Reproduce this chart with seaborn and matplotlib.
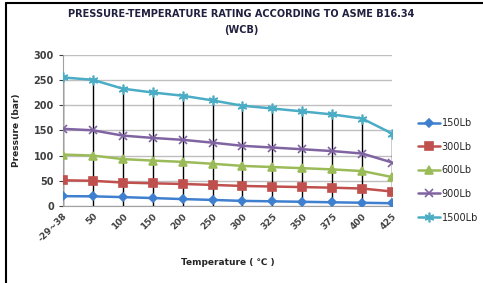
import matplotlib
matplotlib.use("Agg")
import matplotlib.pyplot as plt
import seaborn as sns
import pandas as pd

# temperature categories (deg C)
temps = ["-29~38", "50", "100", "150", "200", "250", "300", "325", "350", "375", "400", "425"]

# pressure ratings (bar) per class, WCB
p150 = [19.6, 19.2, 17.7, 15.8, 13.8, 12.1, 10.2, 9.3, 8.4, 7.4, 6.5, 5.5]
p300 = [51.1, 50.1, 46.6, 45.1, 43.8, 41.9, 39.8, 38.7, 37.6, 36.4, 34.7, 28.8]
p600 = [102.1, 100.2, 93.2, 90.2, 87.6, 83.9, 79.6, 77.4, 75.1, 72.7, 69.4, 57.5]
p900 = [153.2, 150.4, 139.8, 135.2, 131.4, 125.8, 119.5, 116.1, 112.7, 109.1, 104.2, 86.3]
p1500 = [255.3, 250.6, 233.0, 225.4, 219.0, 209.7, 199.1, 193.6, 187.8, 181.8, 173.6, 143.8]

classes = ["150Lb", "300Lb", "600Lb", "900Lb", "1500Lb"]
series = [p150, p300, p600, p900, p1500]
colors = ["#3f7fcf", "#c0504d", "#9bbb59", "#8064a2", "#4bacc6"]
markers = ["D", "s", "^", "x", (6, 2, 0)]
msizes = [4, 6, 6, 6, 7]

rows = []
for cls, vals in zip(classes, series):
    for i, v in enumerate(vals):
        rows.append({"idx": i, "pressure": v, "cls": cls})
df = pd.DataFrame(rows)

sns.set_style("white")
plt.rcParams["font.family"] = ["DejaVu Sans"]

fig = plt.figure(figsize=(4.83, 2.83), dpi=100)
ax = fig.add_axes([0.130, 0.272, 0.682, 0.534])

# drop lines from the highest series down to the axis
ax.vlines(range(len(temps)), 0, p1500, color="black", lw=1.0, zorder=1)

for cls, col, mk, ms in zip(classes, colors, markers, msizes):
    sub = df[df["cls"] == cls]
    sns.lineplot(data=sub, x="idx", y="pressure", ax=ax, color=col, lw=1.8,
                 marker=mk, markersize=ms, markeredgecolor=col,
                 markeredgewidth=1.2, label=cls, zorder=3)

ax.set_xlim(0, len(temps) - 1)
ax.set_ylim(0, 300)
ax.set_yticks(range(0, 301, 50))
ax.set_xticks(range(len(temps)))
ax.set_xticklabels(temps, rotation=45, ha="right", rotation_mode="anchor",
                   fontsize=6.5, color="#404040")
ax.tick_params(axis="y", labelsize=7, colors="#404040", length=3, width=0.8,
               direction="out", left=True)
ax.tick_params(axis="x", length=0, pad=4)
for lab in ax.get_yticklabels() + ax.get_xticklabels():
    lab.set_fontweight("bold")

ax.yaxis.grid(True, color="#bfbfbf", lw=1.0)
ax.set_axisbelow(True)
for s in ["top", "right"]:
    ax.spines[s].set_visible(False)
ax.spines["left"].set_color("#a0a0a0")
ax.spines["bottom"].set_color("#a0a0a0")

ax.set_xlabel("Temperature ( \u2103 )", fontsize=6.5, fontweight="bold", labelpad=10)
ax.set_ylabel("Pressure (bar)", fontsize=6.5, fontweight="bold", labelpad=9)

fig.text(0.50, 0.95, "PRESSURE-TEMPERATURE RATING ACCORDING TO ASME B16.34",
         ha="center", va="center", fontsize=7, fontweight="bold", color="#1f1f3f")
fig.text(0.50, 0.895, "(WCB)", ha="center", va="center", fontsize=7,
         fontweight="bold", color="#1f1f3f")

ax.legend(loc="upper left", bbox_to_anchor=(0.855, 0.60), bbox_transform=fig.transFigure,
          frameon=False, fontsize=7, handlelength=2.3, labelspacing=1.4,
          handletextpad=0.15, borderpad=0)

# outer frame of the chart (left and top edges visible)
fig.add_artist(plt.Line2D([0.013, 0.013], [0, 0.99], color="black", lw=1.5,
                          transform=fig.transFigure))
fig.add_artist(plt.Line2D([0.013, 1.0], [0.99, 0.99], color="black", lw=1.5,
                          transform=fig.transFigure))

fig.savefig("out.png", dpi=100)
